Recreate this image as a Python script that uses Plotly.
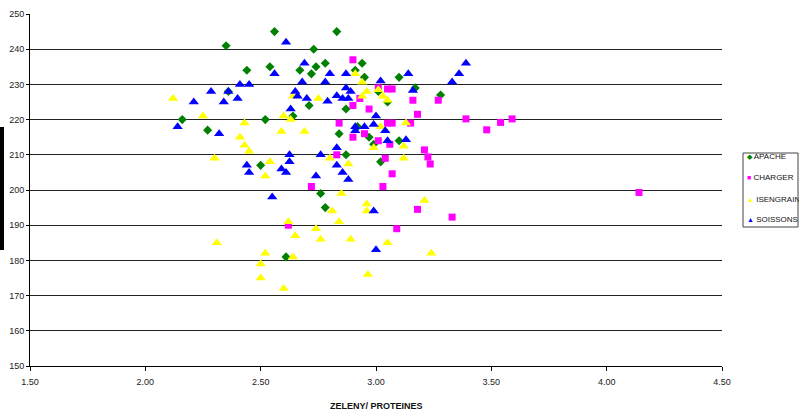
import plotly.graph_objects as go

# ---- data ----
series_names = ["APACHE", "CHARGER", "ISENGRAIN", "SOISSONS"]

apache_x = [2.16, 2.27, 2.35, 2.36, 2.44, 2.50, 2.52, 2.54, 2.56, 2.61, 2.64, 2.67, 2.71, 2.72,
            2.73, 2.74, 2.76, 2.78, 2.78, 2.83, 2.84, 2.87, 2.87, 2.91, 2.92, 2.94, 2.95, 2.97,
            2.99, 3.01, 3.02, 3.05, 3.10, 3.10, 3.17, 3.28]
apache_y = [220, 217, 241, 228, 234, 207, 220, 235, 245, 181, 221, 234, 224, 233,
            240, 235, 199, 236, 195, 245, 216, 223, 210, 234, 218, 236, 232, 215,
            213, 228, 208, 225, 232, 214, 229, 227]

charger_x = [2.62, 2.72, 2.83, 2.84, 2.90, 2.90, 2.90, 2.93, 2.95, 2.97, 3.01, 3.01, 3.03, 3.04,
             3.05, 3.05, 3.06, 3.07, 3.07, 3.07, 3.09, 3.15, 3.16, 3.18, 3.18, 3.21, 3.225, 3.235,
             3.27, 3.33, 3.39, 3.48, 3.54, 3.59, 4.14]
charger_y = [190, 201, 210, 219, 237, 224, 215, 226, 216, 223, 229, 214, 201, 209,
             228.7, 219, 213, 228.7, 219, 204.6, 189, 219, 225.5, 221.5, 194.5, 211.4, 209.4, 207.4,
             225.5, 192.3, 220.2, 217.1, 219.2, 220.2, 199.3]

isengrain_x = [2.12, 2.25, 2.30, 2.31, 2.41, 2.43, 2.43, 2.45, 2.50, 2.50, 2.52, 2.52, 2.54, 2.59,
               2.60, 2.60, 2.62, 2.63, 2.64, 2.64, 2.65, 2.69, 2.74, 2.75, 2.76, 2.80, 2.81, 2.84,
               2.85, 2.88, 2.89, 2.91, 2.94, 2.94, 2.96, 2.96, 2.96, 2.965, 2.99, 3.01, 3.02, 3.03,
               3.05, 3.05, 3.12, 3.12, 3.13, 3.21, 3.24]
isengrain_y = [226, 221, 209, 185, 215, 219, 212.7, 211, 179, 175, 204, 182, 208, 216.6,
               172, 221, 191, 220, 226.6, 181, 187, 216.6, 189, 226, 186, 209, 194, 191,
               199, 207.4, 186, 233, 230.6, 226.6, 228, 196, 194, 176, 212, 228.5, 218, 226.6,
               225.5, 185, 212.4, 209, 219, 197, 182]

soissons_x = [2.14, 2.21, 2.285, 2.32, 2.34, 2.36, 2.40, 2.41, 2.44, 2.45, 2.45, 2.55, 2.56, 2.59,
              2.61, 2.61, 2.625, 2.625, 2.63, 2.65, 2.66, 2.68, 2.69, 2.70, 2.74, 2.76, 2.78, 2.79,
              2.80, 2.83, 2.83, 2.83, 2.855, 2.855, 2.87, 2.87, 2.88, 2.88, 2.89, 2.91, 2.91, 2.95,
              2.99, 2.99, 3.00, 3.00, 3.02, 3.04, 3.05, 3.13, 3.14, 3.16, 3.33, 3.36, 3.39]
soissons_y = [218, 225, 228, 216, 225, 228, 226, 230, 207, 205, 230, 198, 233, 206,
              205, 242, 210, 208, 223, 228, 226.6, 230.7, 236, 226, 204, 210, 230.7, 225.2,
              233, 207, 212, 226.8, 205, 226, 233, 229, 226, 203, 228, 218, 216.8, 218,
              218.6, 194, 221, 183, 231, 216.8, 214, 214.3, 233, 228.3, 230.7, 233, 236]

x_title = "ZELENY/ PROTEINES"
x_ticks = [1.5, 2.0, 2.5, 3.0, 3.5, 4.0, 4.5]
y_ticks = [150, 160, 170, 180, 190, 200, 210, 220, 230, 240, 250]

# ---- styling ----
W, H = 799, 417
L, R, T, B = 30, 77, 14, 51
pw, ph = W - L - R, H - T - B
FONT = "Liberation Sans, Arial, sans-serif"

def px_x(p):
    return (p - L) / pw

def px_y(p):
    return (H - B - p) / ph

styles = [
    dict(symbol="diamond", color="#008000", size=7),
    dict(symbol="square", color="#FF00FF", size=7),
    dict(symbol="triangle-up", color="#FFFF00", size=9),
    dict(symbol="triangle-up", color="#0000FF", size=9),
]
glyphs = ["\u25C6", "\u25A0", "\u25B2", "\u25B2"]
data = [(apache_x, apache_y), (charger_x, charger_y),
        (isengrain_x, isengrain_y), (soissons_x, soissons_y)]

fig = go.Figure()
for name, (xs, ys), st in zip(series_names, data, styles):
    fig.add_trace(go.Scatter(
        x=xs, y=ys, mode="markers", name=name, showlegend=False,
        marker=dict(symbol=st["symbol"], color=st["color"], size=st["size"],
                    line=dict(width=0)),
    ))

# custom legend
legend_rows = [156, 177.5, 199, 219]
annotations = []
for name, st, g, row in zip(series_names, styles, glyphs, legend_rows):
    annotations.append(dict(
        x=px_x(745), y=px_y(row), xref="paper", yref="paper",
        xanchor="left", yanchor="middle", showarrow=False,
        text=f'<span style="color:{st["color"]};font-size:7px">{g}</span> {name}',
        font=dict(family=FONT, size=8, color="#111111"),
    ))
annotations.append(dict(
    x=0.5, y=px_y(406), xref="paper", yref="paper", xanchor="center", yanchor="middle",
    showarrow=False, text=f"<b>{x_title}</b>",
    font=dict(family=FONT, size=9, color="#111111"),
))

shapes = [
    dict(type="rect", xref="paper", yref="paper",
         x0=px_x(743), x1=px_x(798), y0=px_y(227), y1=px_y(153),
         line=dict(color="#444444", width=1), fillcolor="white", layer="above"),
    dict(type="rect", xref="paper", yref="paper",
         x0=px_x(0), x1=px_x(4), y0=px_y(250), y1=px_y(127),
         line=dict(width=0), fillcolor="black"),
]

fig.update_layout(
    width=W, height=H,
    margin=dict(l=L, r=R, t=T, b=B, pad=0, autoexpand=False),
    paper_bgcolor="white", plot_bgcolor="white",
    font=dict(family=FONT, size=9, color="#222222"),
    annotations=annotations, shapes=shapes,
    xaxis=dict(range=[1.5, 4.5], tickvals=x_ticks, tickformat=".2f", automargin=False,
               showgrid=False, zeroline=False, showline=True, linecolor="#000000",
               linewidth=1, ticks="outside", ticklen=4, tickcolor="#000000",
               ticklabelstandoff=3,
               tickfont=dict(family=FONT, size=9, color="#222222")),
    yaxis=dict(range=[150, 250], tickvals=y_ticks, automargin=False,
               showgrid=True, gridcolor="#222222", gridwidth=1, zeroline=False,
               showline=True, linecolor="#000000", linewidth=1,
               ticks="outside", ticklen=3, tickcolor="#000000",
               tickfont=dict(family=FONT, size=9, color="#222222")),
)

fig.write_html("out.html")
